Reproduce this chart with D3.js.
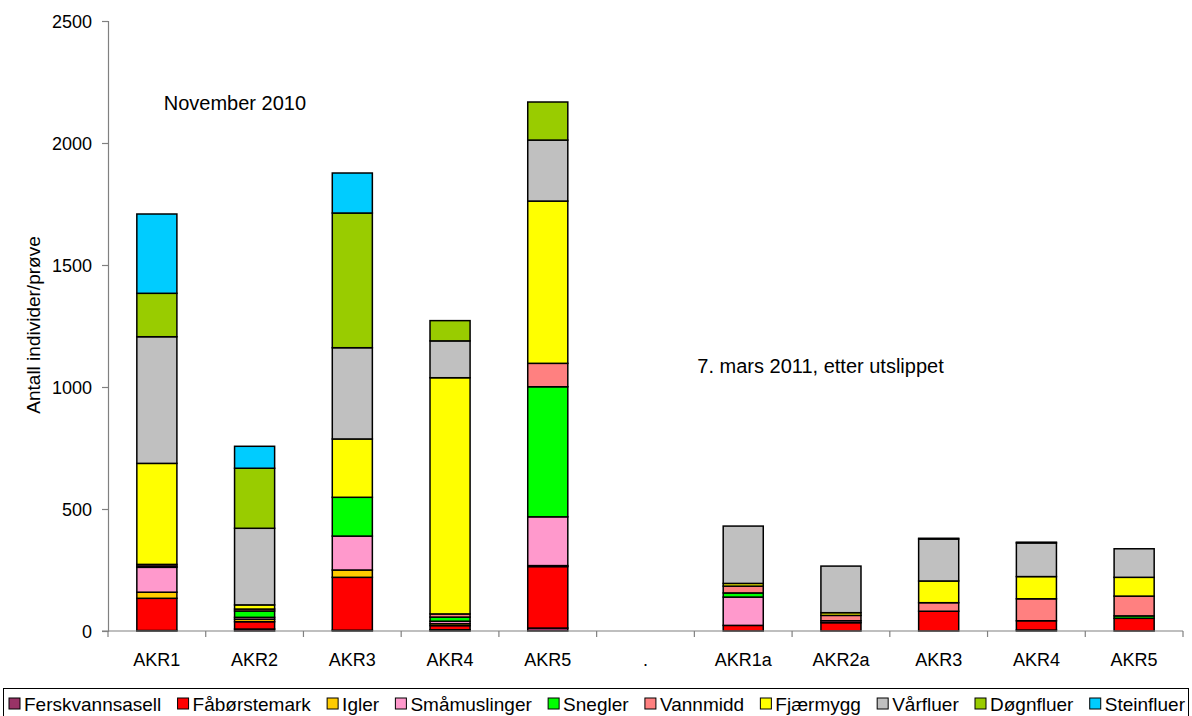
<!DOCTYPE html>
<html>
<head>
<meta charset="utf-8">
<script src="https://cdn.jsdelivr.net/npm/d3@7/dist/d3.min.js"></script>
<style>
  body { margin: 0; background: #fff; }
  svg text { font-family: "Liberation Sans", Arial, sans-serif; fill: #000; }
</style>
</head>
<body>
<svg width="1192" height="716"></svg>
<script>
// station labels (the "." is the empty gap column)
var labels = ["AKR1", "AKR2", "AKR3", "AKR4", "AKR5", ".", "AKR1a", "AKR2a", "AKR3", "AKR4", "AKR5"];
var species = ["Ferskvannsasell", "Fåbørstemark", "Igler", "Småmuslinger", "Snegler", "Vannmidd", "Fjærmygg", "Vårfluer", "Døgnfluer", "Steinfluer"];
var colors = ["#993366", "#FF0000", "#FFCC00", "#FF99CC", "#00FF00", "#FF8080", "#FFFF00", "#C0C0C0", "#99CC00", "#00CCFF"];

var ferskvannsasell = [2, 8, 3, 5, 12, 0, 0, 0, 0, 4, 0];
var faborstemark    = [132, 30, 217, 17, 252, 0, 23, 34, 81, 38, 52];
var igler           = [25, 10, 30, 8, 4, 0, 0, 0, 0, 0, 0];
var smamuslinger    = [102, 8, 139, 10, 200, 0, 116, 8, 0, 0, 0];
var snegler         = [5, 26, 159, 17, 533, 0, 17, 0, 0, 0, 10];
var vannmidd        = [7, 8, 0, 13, 96, 0, 28, 22, 35, 90, 81];
var fjaermygg       = [414, 17, 239, 968, 665, 0, 11, 11, 89, 91, 77];
var varfluer        = [519, 314, 374, 151, 250, 0, 235, 191, 172, 138, 117];
var dognfluer       = [178, 246, 552, 83, 156, 0, 0, 0, 3, 3, 0];
var steinfluer      = [325, 90, 164, 0, 0, 0, 0, 0, 0, 0, 0];

var yTicks = [0, 500, 1000, 1500, 2000, 2500];
var notes = [{ text: "November 2010", x: 0.57, v: 2135 }, { text: "7. mars 2011, etter utslippet", x: 6.03, v: 1057 }];

(function () {
    var series = [ferskvannsasell, faborstemark, igler, smamuslinger, snegler, vannmidd, fjaermygg, varfluer, dognfluer, steinfluer];
    var rows = labels.map(function (l, i) {
        var r = { idx: i };
        species.forEach(function (s, j) { r[s] = series[j][i]; });
        return r;
    });

    var svg = d3.select("svg");
    var left = 108, right = 1183, plotTop = 21, plotBottom = 631;

    var x = d3.scaleBand().domain(d3.range(labels.length)).range([left, right])
        .paddingInner(0.59).paddingOuter(0.295);
    var y = d3.scaleLinear().domain([0, 2500]).range([plotBottom, plotTop]);
    var step = x.step();

    var stacked = d3.stack().keys(species)(rows);

    /*
        Bars
    */
    var layers = svg.append("g").selectAll("g").data(stacked).enter().append("g")
        .attr("fill", function (d, i) { return colors[i]; });
    layers.selectAll("rect")
        .data(function (d) { return d.filter(function (p) { return p[1] - p[0] > 0; }); })
        .enter().append("rect")
        .attr("x", function (d) { return x(d.data.idx); })
        .attr("y", function (d) { return y(d[1]); })
        .attr("width", x.bandwidth())
        .attr("height", function (d) { return y(d[0]) - y(d[1]); })
        .attr("stroke", "#000")
        .attr("stroke-width", 1.5);

    /*
        Axes
    */
    var yAxis = svg.append("g").attr("transform", "translate(" + left + ",0)")
        .call(d3.axisLeft(y).tickValues(yTicks).tickSize(6).tickPadding(10).tickFormat(d3.format("d")));
    yAxis.select(".domain").attr("stroke", "#808080").attr("stroke-width", 1.2);
    yAxis.selectAll(".tick line").attr("stroke", "#808080").attr("stroke-width", 1.2);
    yAxis.selectAll("text").attr("font-size", 18).attr("dy", "0.35em")
        .attr("font-family", "'Liberation Sans', Arial, sans-serif");

    var xa = svg.append("g");
    xa.append("line").attr("x1", left - 6).attr("x2", right).attr("y1", plotBottom).attr("y2", plotBottom)
        .attr("stroke", "#808080").attr("stroke-width", 1.2);
    xa.selectAll(".tk").data(d3.range(labels.length + 1)).enter().append("line")
        .attr("x1", function (i) { return left + i * step; })
        .attr("x2", function (i) { return left + i * step; })
        .attr("y1", plotBottom).attr("y2", plotBottom + 6)
        .attr("stroke", "#808080").attr("stroke-width", 1.2);
    xa.selectAll("text").data(labels).enter().append("text")
        .attr("x", function (d, i) { return x(i) + x.bandwidth() / 2; })
        .attr("y", 666)
        .attr("text-anchor", "middle")
        .attr("font-size", 18)
        .text(function (d) { return d; });

    svg.append("text")
        .attr("transform", "translate(40," + 325 + ") rotate(-90)")
        .attr("text-anchor", "middle")
        .attr("font-size", 19)
        .text("Antall individer/prøve");

    svg.selectAll(".note").data(notes).enter().append("text")
        .attr("x", function (d) { return left + d.x * step; })
        .attr("y", function (d) { return y(d.v); })
        .attr("font-size", 20)
        .text(function (d) { return d.text; });

    /*
        Legend
    */
    var lg = svg.append("g");
    lg.append("rect").attr("x", 3.5).attr("y", 688.5).attr("width", 1185).attr("height", 30)
        .attr("fill", "#fff").attr("stroke", "#000").attr("stroke-width", 1);
    var items = lg.selectAll(".item").data(species).enter().append("g");
    items.append("rect").attr("width", 11).attr("height", 11).attr("y", 698)
        .attr("fill", function (d, i) { return colors[i]; })
        .attr("stroke", "#000").attr("stroke-width", 1);
    items.append("text").attr("x", 15).attr("y", 711).attr("font-size", 19)
        .text(function (d) { return d; });
    var widths = [];
    items.each(function () { widths.push(this.querySelector("text").getComputedTextLength() + 15); });
    var total = d3.sum(widths);
    var gap = Math.max(4, (1176 - total) / (species.length - 1));
    var pos = 9;
    items.attr("transform", function (d, i) {
        var t = "translate(" + pos + ",0)";
        pos += widths[i] + gap;
        return t;
    });
})();
</script>
</body>
</html>
